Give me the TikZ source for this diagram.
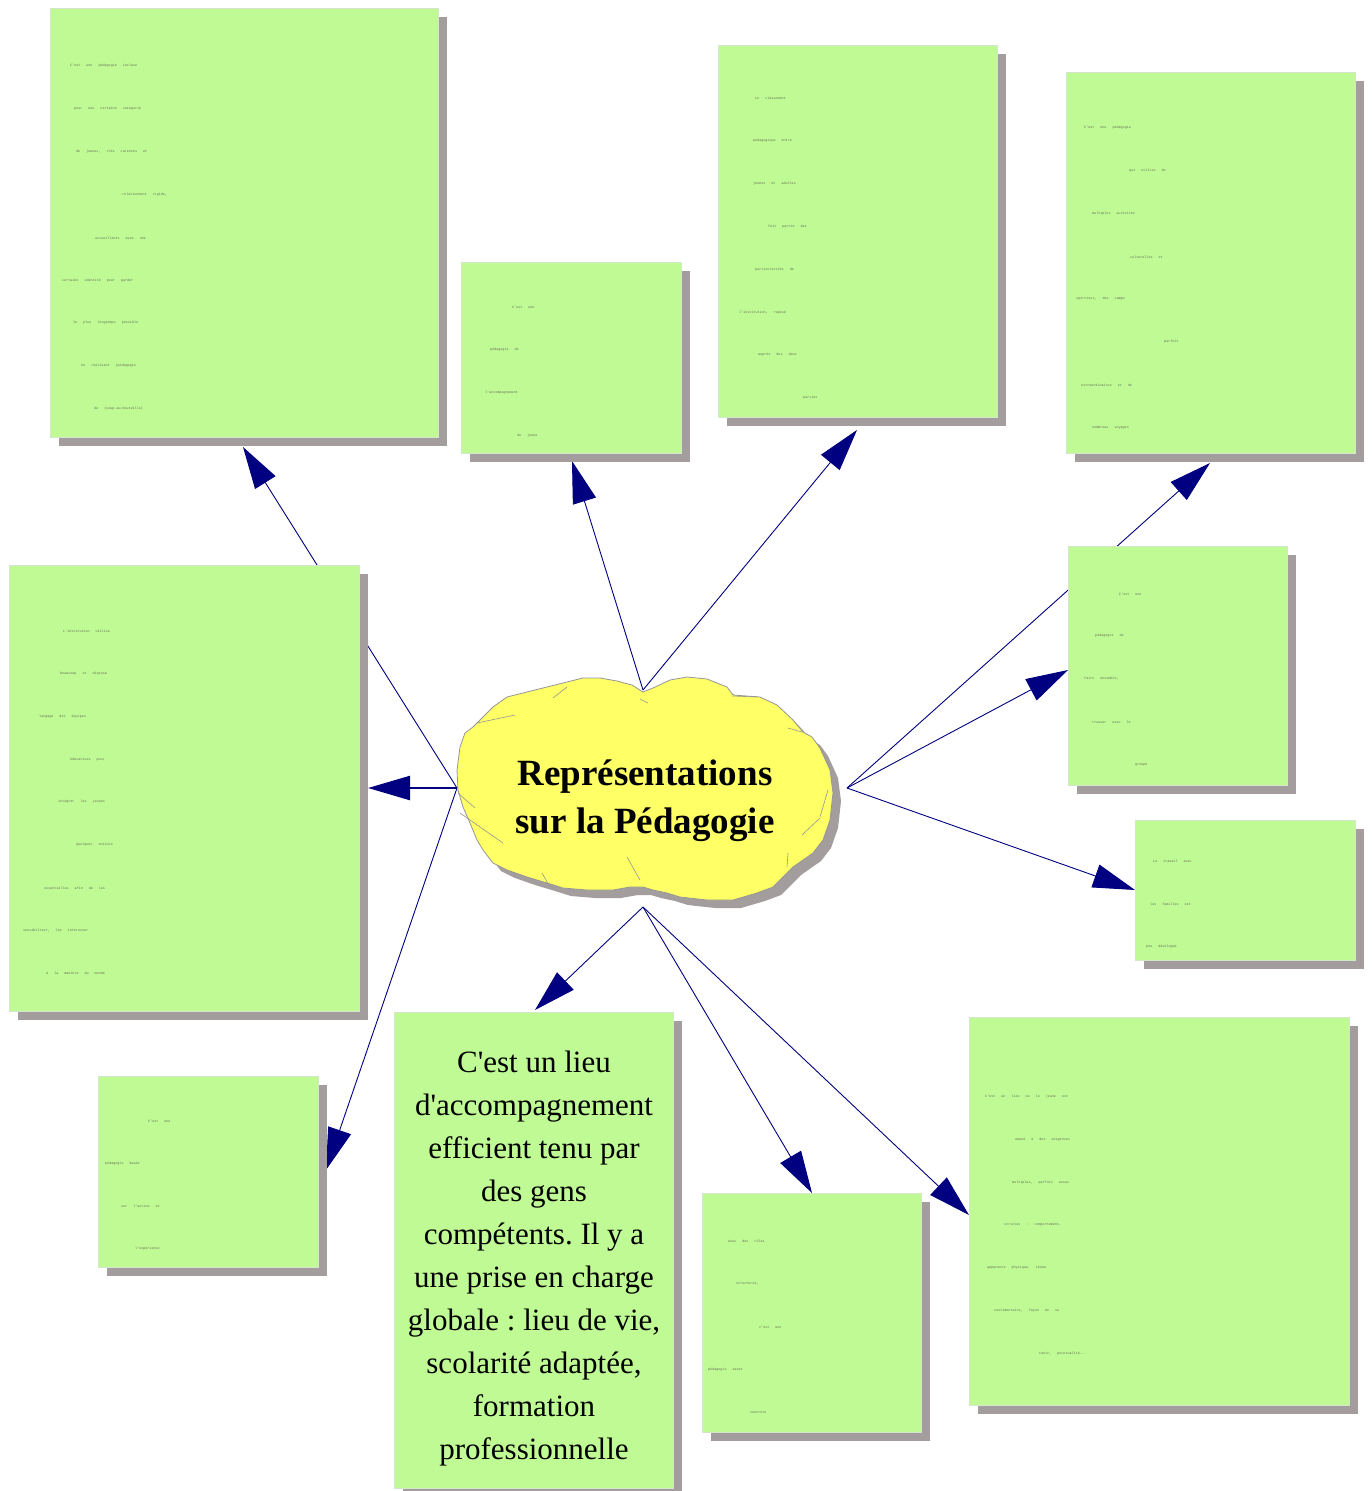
\documentclass[tikz,border=0pt]{standalone}
\usepackage{fontspec}
\setmainfont{Liberation Serif}
\newfontfamily\minimono{Liberation Mono}
\usetikzlibrary{arrows.meta,shadows}

\definecolor{boxgreen}{RGB}{191,250,148}
\definecolor{boxedge}{RGB}{214,230,204}
\definecolor{shadowgray}{RGB}{163,157,157}
\definecolor{cloudyellow}{RGB}{255,255,102}
\definecolor{cloudedge}{RGB}{150,150,150}
\definecolor{linknavy}{RGB}{0,0,128}
\definecolor{inktext}{RGB}{100,110,90}

% one small printed line on a card: name, left x, middle y, text
\newcommand\cardline[4]{%
  \node[minitxt] (#1) at (#2,#3) {\spaceskip=6pt\relax #4};}
\newcommand\qs{\textquotesingle}

\begin{document}
\frenchspacing
\begin{tikzpicture}[x=1pt,y=-1pt,
  card/.style={draw=boxedge, line width=1pt, fill=boxgreen, anchor=north west,
    inner sep=0pt,
    drop shadow={shadow xshift=8pt, shadow yshift=-8pt, opacity=1, fill=shadowgray}},
  link/.style={draw=linknavy, line width=0.9pt,
    -{Triangle[length=42pt,width=24pt]}},
  minitxt/.style={font=\minimono\fontsize{3.4}{4}\selectfont,
    text=inktext, inner sep=0pt, anchor=west},
  crease/.style={draw=cloudedge, line width=0.6pt},
  cloudline/.style={insert path={plot coordinates {
    (643,692) (653,688) (670,680) (687,677) (707,679) (727,687) (733,695)
    (760,697) (777,705) (793,720) (803,732) (812,737) (820,748) (830,770)
    (833,793) (830,820) (823,840) (813,853) (803,860) (793,867) (783,877)
    (773,887) (757,893) (733,900) (707,900) (680,897) (667,893) (653,890)
    (643,887) (630,887) (613,890) (587,890) (563,888) (547,883) (527,877)
    (507,870) (493,863) (483,850) (477,840) (470,823) (463,807) (458,790)
    (457,770) (460,747) (465,733) (473,727) (483,717) (493,707) (507,697)
    (527,692) (547,687) (563,683) (583,678) (600,678) (617,681) (632,685)}
    -- cycle}}
]
\useasboundingbox (0,0) rectangle (1371,1491);
\fill[white] (0,0) rectangle (1371,1491);

% central cloud with its shadow and crumpled folds
\begin{scope}[shift={(8,8)}]
  \fill[shadowgray, cloudline];
\end{scope}
\filldraw[fill=cloudyellow, draw=cloudedge, line width=0.8pt, line join=round, cloudline];
\draw[crease] (553,698) -- (567,687);
\draw[crease] (477,723) -- (515,715);
\draw[crease] (640,699) -- (648,703);
\draw[crease] (732,696) -- (757,697);
\draw[crease] (788,728) -- (802,732);
\draw[crease] (828,790) -- (820,817);
\draw[crease] (802,835) -- (820,818);
\draw[crease] (788,853) -- (787,867);
\draw[crease] (627,857) -- (640,880);
\draw[crease] (542,873) -- (550,887);
\draw[crease] (460,813) -- (503,843);
\draw[crease] (458,793) -- (475,808);
\node[font=\bfseries\fontsize{37}{48}\selectfont, align=center, inner sep=0pt]
  (title) at (645,801) {Représentations\\sur la Pédagogie};

% start points of the connectors around the cloud
\coordinate (ct) at (643,690);
\coordinate (cl) at (457,788);
\coordinate (cr) at (847,788);
\coordinate (cb) at (643,907);

% card corners (placed first so the tips can refer to them)
\path
  (50,8)      coordinate (b1)
  (461,262)   coordinate (b2)
  (718,45)    coordinate (b3)
  (1066,72)   coordinate (b4)
  (9,565)     coordinate (b5)
  (1068,546)  coordinate (b6)
  (1135,820)  coordinate (b7)
  (98,1076)   coordinate (b8)
  (394,1012)  coordinate (b9)
  (702,1193)  coordinate (b10)
  (969,1017)  coordinate (b11);

% arrow tips
\coordinate (t1)  at ([shift={(193,439)}]b1);
\coordinate (t2)  at ([shift={(111,199)}]b2);
\coordinate (t3)  at ([shift={(139,385)}]b3);
\coordinate (t4)  at ([shift={(144,391)}]b4);
\coordinate (t5)  at ([shift={(359,223)}]b5);
\coordinate (t6)  at ([shift={(0,124)}]b6);
\coordinate (t7)  at ([shift={(0,70)}]b7);
\coordinate (t8)  at ([shift={(228,94)}]b8);
\coordinate (t9)  at ([shift={(141,-2)}]b9);
\coordinate (t10) at ([shift={(110,0)}]b10);
\coordinate (t11) at ([shift={(0,198)}]b11);

% connectors
\draw[link] (cl) -- (t1);
\draw[link, line width=2.4pt] (cl) -- (t5);
\draw[link] (cl) -- (t8);
\draw[link] (ct) -- (t2);
\draw[link] (ct) -- (t3);
\draw[link] (cr) -- (t4);
\draw[link] (cr) -- (t6);
\draw[link] (cr) -- (t7);
\draw[link] (cb) -- (t9);
\draw[link] (cb) -- (t10);
\draw[link] (cb) -- (t11);

% cards
\node[card, minimum width=388pt, minimum height=429pt] (n1)  at (b1) {};
\node[card, minimum width=220pt, minimum height=191pt] (n2)  at (b2) {};
\node[card, minimum width=279pt, minimum height=372pt] (n3)  at (b3) {};
\node[card, minimum width=289pt, minimum height=381pt] (n4)  at (b4) {};
\node[card, minimum width=350pt, minimum height=446pt] (n5)  at (b5) {};
\node[card, minimum width=219pt, minimum height=239pt] (n6)  at (b6) {};
\node[card, minimum width=220pt, minimum height=140pt] (n7)  at (b7) {};
\node[card, minimum width=220pt, minimum height=191pt] (n8)  at (b8) {};
\node[card, minimum width=279pt, minimum height=476pt] (n9)  at (b9) {};
\node[card, minimum width=219pt, minimum height=239pt] (n10) at (b10) {};
\node[card, minimum width=380pt, minimum height=388pt] (n11) at (b11) {};

% card texts
\cardline{n1a}{70}{66}{C\qs est une pédagogie incluse}
\cardline{n1b}{74}{109}{pour une certaine catégorie}
\cardline{n1c}{76}{152}{de jeunes, très carencés et}
\cardline{n1d}{122}{195}{relativement rigide,}
\cardline{n1e}{95}{238}{accueillants avec une}
\cardline{n1f}{62}{281}{certaine identité pour garder}
\cardline{n1g}{73}{323}{le plus longtemps possible}
\cardline{n1h}{81}{366}{en réalisant (pédagogie}
\cardline{n1i}{94}{409}{du (coup-au-bouteille)}

\cardline{n2a}{512}{307}{C\qs est une}
\cardline{n2b}{490}{350}{pédagogie de}
\cardline{n2c}{485}{393}{l\qs accompagnement}
\cardline{n2d}{517}{436}{du jeune}

\cardline{n3a}{755}{98}{Le classement}
\cardline{n3b}{753}{141}{pédagogique entre}
\cardline{n3c}{753}{184}{jeunes et adultes}
\cardline{n3d}{768}{227}{fait partie des}
\cardline{n3e}{755}{270}{particularités de}
\cardline{n3f}{739}{313}{l\qs institution, reposé}
\cardline{n3g}{758}{355}{auprès des deux}
\cardline{n3h}{803}{398}{parties}

\cardline{n4a}{1084}{128}{C\qs est une pédagogie}
\cardline{n4b}{1129}{171}{qui utilise de}
\cardline{n4c}{1092}{214}{multiples activités}
\cardline{n4d}{1130}{257}{culturelles et}
\cardline{n4e}{1076}{299}{sportives, des camps}
\cardline{n4f}{1164}{342}{parfois}
\cardline{n4g}{1081}{385}{extraordinaires et de}
\cardline{n4h}{1092}{428}{nombreux voyages}

\cardline{n5a}{63}{631}{L\qs institution utilise}
\cardline{n5b}{60}{674}{beaucoup et dispose}
\cardline{n5c}{39}{717}{langage des équipes}
\cardline{n5d}{70}{760}{éducatives pour}
\cardline{n5e}{58}{802}{intégrer les jeunes}
\cardline{n5f}{76}{845}{quelques notions}
\cardline{n5g}{44}{888}{essentielles afin de les}
\cardline{n5h}{23}{931}{sensibiliser, les intéresser}
\cardline{n5i}{46}{973}{à la manière du monde}

\cardline{n6a}{1119}{594}{C\qs est une}
\cardline{n6b}{1095}{636}{pédagogie de}
\cardline{n6c}{1084}{679}{faire ensemble,}
\cardline{n6d}{1092}{722}{trouver avec le}
\cardline{n6e}{1135}{765}{groupe}

\cardline{n7a}{1153}{861}{Le travail avec}
\cardline{n7b}{1150}{904}{les familles est}
\cardline{n7c}{1146}{947}{peu développé}

\cardline{n8a}{148}{1121}{C\qs est une}
\cardline{n8b}{105}{1164}{pédagogie basée}
\cardline{n8c}{121}{1206}{sur l\qs action et}
\cardline{n8d}{135}{1249}{l\qs expérience}

\cardline{n10a}{728}{1241}{Avec des rôles}
\cardline{n10b}{736}{1284}{structurés,}
\cardline{n10c}{759}{1327}{c\qs est une}
\cardline{n10d}{708}{1370}{pédagogie assez}
\cardline{n10e}{750}{1412}{concrète}

\cardline{n11a}{985}{1097}{C\qs est un lieu où le jeune est}
\cardline{n11b}{1015}{1140}{amené à des exigences}
\cardline{n11c}{1012}{1183}{multiples, parfois assez}
\cardline{n11d}{1004}{1225}{strictes : comportement,}
\cardline{n11e}{987}{1268}{apparence physique, tenue}
\cardline{n11f}{994}{1311}{vestimentaire, façon de se}
\cardline{n11g}{1039}{1354}{tenir, ponctualité...}

\node[font=\fontsize{31}{43}\selectfont, align=center, inner sep=0pt]
  (n9txt) at (534,1259) {C\qs est un lieu\\d\qs accompagnement\\efficient tenu par\\des gens\\compétents. Il y a\\une prise en charge\\globale : lieu de vie,\\scolarité adaptée,\\formation\\professionnelle};
\end{tikzpicture}
\end{document}
